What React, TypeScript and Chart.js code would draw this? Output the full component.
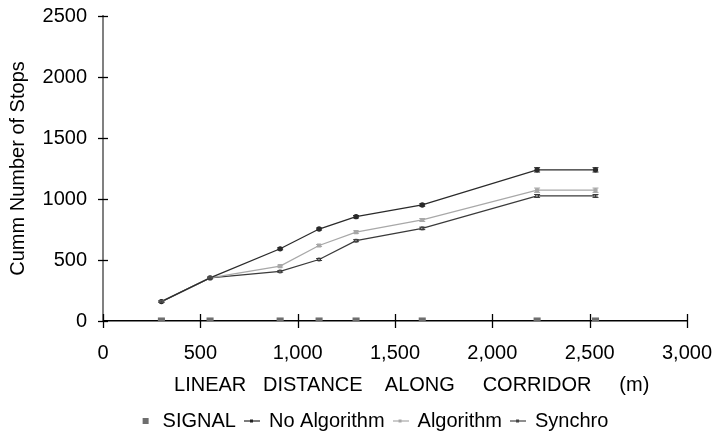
import { useEffect, useRef } from "react";
import { Chart, registerables } from "chart.js";

Chart.register(...registerables);

const distances = [300, 550, 910, 1110, 1300, 1640, 2230, 2530];
const signal = [0, 0, 0, 0, 0, 0, 0, 0];
const noAlgorithm = [159, 353, 592, 754, 855, 951, 1239, 1239];
const algorithm = [159, 353, 450, 619, 729, 828, 1072, 1072];
const synchro = [159, 353, 406, 504, 658, 759, 1025, 1025];
const noAlgorithmErr = [6, 6, 8, 8, 10, 10, 18, 18];
const algorithmErr = [6, 6, 8, 8, 10, 12, 18, 18];
const synchroErr = [6, 6, 6, 8, 8, 10, 12, 12];
const xTickValues = [0, 500, 1000, 1500, 2000, 2500, 3000];
const yTickValues = [0, 500, 1000, 1500, 2000, 2500];
const xTitle = "      LINEAR   DISTANCE    ALONG     CORRIDOR     (m)";
const yTitle = "Cumm Number of Stops";

const FONT = "'Liberation Sans', Arial, sans-serif";

function pts(vals: number[]) {
  return distances.map((d, i) => ({ x: d, y: vals[i] }));
}

function legendMarker(kind: string, color: string) {
  const c = document.createElement("canvas");
  if (kind === "square") {
    c.width = 8;
    c.height = 8;
    const g = c.getContext("2d")!;
    g.fillStyle = color;
    g.fillRect(1, 1, 6, 6);
  } else {
    c.width = 16;
    c.height = 8;
    const g = c.getContext("2d")!;
    g.strokeStyle = color;
    g.lineWidth = 1.2;
    g.beginPath();
    g.moveTo(0, 4);
    g.lineTo(16, 4);
    g.stroke();
    g.fillStyle = color;
    g.fillRect(6, 2.5, 3, 3);
  }
  return c;
}

const crossTicks = {
  id: "crossTicks",
  beforeDatasetsDraw(chart: any) {
    const { ctx, chartArea, scales } = chart;
    const x = scales.x;
    const y = scales.y;
    ctx.save();
    ctx.strokeStyle = "#000";
    ctx.lineWidth = 1.3;
    xTickValues.forEach((v) => {
      const px = Math.round(x.getPixelForValue(v)) + 0.5;
      ctx.beginPath();
      ctx.moveTo(px, chartArea.bottom - 7);
      ctx.lineTo(px, chartArea.bottom + 7);
      ctx.stroke();
    });
    yTickValues.forEach((v) => {
      const py = Math.round(y.getPixelForValue(v)) + 0.5;
      ctx.beginPath();
      ctx.moveTo(chartArea.left - 5, py);
      ctx.lineTo(chartArea.left + 5, py);
      ctx.stroke();
    });
    ctx.restore();
  },
};

const errorBars = {
  id: "errorBars",
  afterDatasetsDraw(chart: any) {
    const { ctx, scales } = chart;
    const x = scales.x;
    const y = scales.y;
    ctx.save();
    chart.data.datasets.forEach((ds: any) => {
      if (!ds.errors) return;
      ctx.strokeStyle = ds.borderColor;
      ctx.lineWidth = 1;
      ds.data.forEach((p: any, i: number) => {
        const e = ds.errors[i];
        const px = x.getPixelForValue(p.x);
        const top = y.getPixelForValue(p.y + e);
        const bot = y.getPixelForValue(p.y - e);
        ctx.beginPath();
        ctx.moveTo(px, top);
        ctx.lineTo(px, bot);
        ctx.moveTo(px - 3, top);
        ctx.lineTo(px + 3, top);
        ctx.moveTo(px - 3, bot);
        ctx.lineTo(px + 3, bot);
        ctx.stroke();
      });
    });
    ctx.restore();
  },
};

const shiftLegend = {
  id: "shiftLegend",
  afterLayout(chart: any) {
    const lg = chart.legend;
    if (lg) {
      lg.left += 30;
      lg.right += 30;
      lg.top += 5;
      lg.bottom += 5;
    }
  },
};

export default function App() {
  const ref = useRef<HTMLCanvasElement | null>(null);
  useEffect(() => {
    if (!ref.current) return;
    const markers = [
      legendMarker("square", "#6e6e6e"),
      legendMarker("line", "#222"),
      legendMarker("line", "#a8a8a8"),
      legendMarker("line", "#444"),
    ];
    const chart = new Chart(ref.current, {
      type: "line",
      data: {
        datasets: [
          {
            label: "SIGNAL",
            data: pts(signal),
            showLine: false,
            pointStyle: "rect",
            pointRadius: 5,
            backgroundColor: "#6e6e6e",
            borderColor: "#6e6e6e",
            borderWidth: 0,
          },
          {
            label: "No Algorithm",
            data: pts(noAlgorithm),
            borderColor: "#2a2a2a",
            backgroundColor: "#2a2a2a",
            borderWidth: 1.3,
            pointRadius: 2,
            pointStyle: "circle",
            errors: noAlgorithmErr,
          } as any,
          {
            label: "Algorithm",
            data: pts(algorithm),
            borderColor: "#a8a8a8",
            backgroundColor: "#a8a8a8",
            borderWidth: 1.3,
            pointRadius: 2,
            pointStyle: "rect",
            errors: algorithmErr,
          } as any,
          {
            label: "Synchro",
            data: pts(synchro),
            borderColor: "#3a3a3a",
            backgroundColor: "#ffffff",
            borderWidth: 1.3,
            pointRadius: 2,
            pointBorderWidth: 1,
            pointStyle: "rect",
            errors: synchroErr,
          } as any,
        ],
      },
      options: {
        animation: false,
        responsive: false,
        layout: { padding: { left: 0, right: 30, top: 16, bottom: 0 } },
        plugins: {
          tooltip: { enabled: false },
          legend: {
            position: "bottom",
            labels: {
              color: "#000",
              font: { family: FONT, size: 20 },
              usePointStyle: true,
              boxWidth: 14,
              boxHeight: 8,
              padding: 9,
              generateLabels: (c: any) => {
                const base = Chart.defaults.plugins.legend.labels.generateLabels(c);
                return base.map((it: any, i: number) => ({
                  ...it,
                  pointStyle: markers[i],
                }));
              },
            },
          },
        },
        scales: {
          x: {
            type: "linear",
            min: 0,
            max: 3000,
            afterFit: (s: any) => {
              s.height = 76;
              s.paddingLeft = 0;
              s.paddingRight = 0;
            },
            ticks: {
              stepSize: 500,
              color: "#000",
              font: { family: FONT, size: 20 },
              padding: 20,
              maxRotation: 0,
              callback: (v: any) => Number(v).toLocaleString("en-US"),
            },
            grid: { display: true, drawOnChartArea: false, drawTicks: false },
            border: { color: "#000", width: 1.5 },
            title: {
              display: true,
              text: xTitle,
              color: "#000",
              font: { family: FONT, size: 20 },
              padding: { top: 4, bottom: 0 },
            },
          },
          y: {
            min: 0,
            max: 2500,
            afterFit: (s: any) => {
              s.width = 103;
              s.paddingTop = 0;
              s.paddingBottom = 0;
            },
            ticks: {
              stepSize: 500,
              color: "#000",
              font: { family: FONT, size: 20 },
              padding: 16,
              callback: (v: any) => String(v),
            },
            grid: { display: true, drawOnChartArea: false, drawTicks: false },
            border: { color: "#808080", width: 2 },
            title: {
              display: true,
              text: yTitle,
              color: "#000",
              font: { family: FONT, size: 20 },
              padding: { top: 6, bottom: 0 },
            },
          },
        },
      },
      plugins: [crossTicks, errorBars, shiftLegend],
    } as any);
    return () => chart.destroy();
  }, []);
  return (
    <div style={{ position: "fixed", left: 0, top: 0, width: 717, height: 436, background: "#fff" }}>
      <canvas ref={ref} width={717} height={436} style={{ width: 717, height: 436 }} />
    </div>
  );
}
